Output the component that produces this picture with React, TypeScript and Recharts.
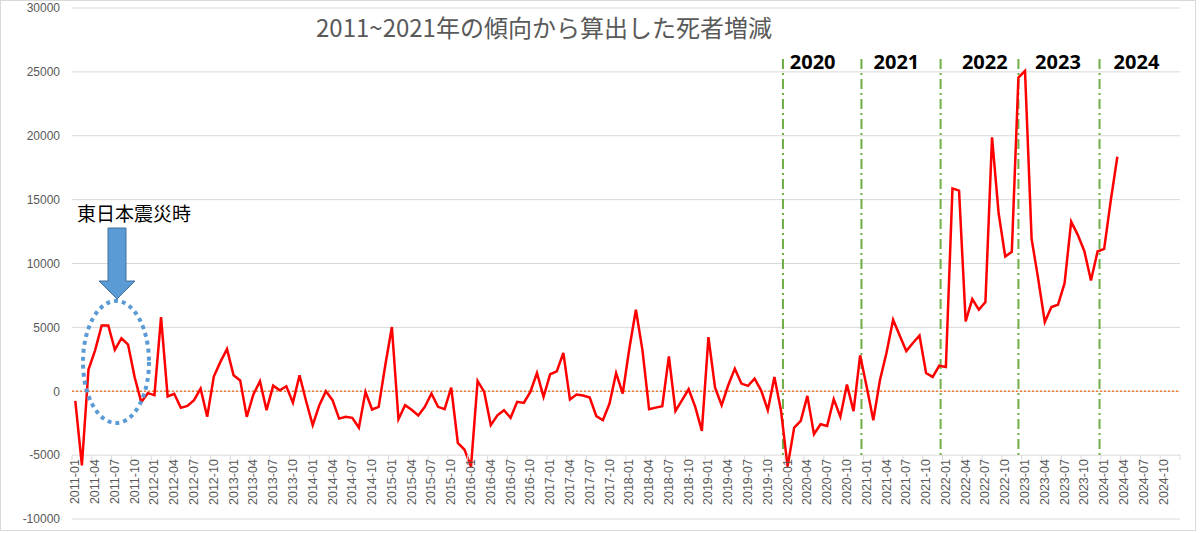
import React from 'react';
import { LineChart, Line, XAxis, YAxis, CartesianGrid, ReferenceLine, ReferenceDot } from 'recharts';

const years = [2011, 2012, 2013, 2014, 2015, 2016, 2017, 2018, 2019, 2020, 2021, 2022, 2023, 2024];
const monthsOfYear = ['01', '02', '03', '04', '05', '06', '07', '08', '09', '10', '11', '12'];
const monthLabels: string[] = years.flatMap((y) => monthsOfYear.map((m) => `${y}-${m}`));

// monthly excess/deficit of deaths vs 2011-2021 trend, 2011-01 .. 2024-03
const deathChange = [
  -750, -5800, 1700, 3200, 5150, 5150, 3250, 4150, 3650, 1100, -850, -150,
  -300, 5800, -400, -200, -1300, -1150, -700, 200, -2000, 1150, 2300, 3300,
  1250, 850, -2000, -250, 780, -1480, 440, 80, 390, -890, 1250, -780,
  -2650, -1090, 0, -700, -2140, -2000, -2080, -2860, -50, -1430, -1220, 2030,
  5030, -2190, -1090, -1450, -1900, -1220, -180, -1220, -1400, 290, -4040, -4560,
  -5900, 810, -50, -2650, -1880, -1480, -2080, -830, -910, -50, 1430, -440,
  1330, 1560, 3000, -650, -260, -330, -490, -1950, -2270, -960, 1430, -180,
  3330, 6380, 3200, -1400, -1280, -1170, 2730, -1540, -700, 160, -1220, -3100,
  4240, 290, -1090, 470, 1770, 600, 420, 990, 50, -1480, 1120, -1500,
  -5900, -2840, -2320, -360, -3360, -2580, -2710, -620, -2000, 520, -1560, 2810,
  340, -2270, 860, 3020, 5600, 4370, 3150, 3780, 4370, 1430, 1120, 2000,
  1900, 15880, 15700, 5470, 7210, 6380, 6980, 19870, 13930, 10550, 10910, 24560,
  25080, 11930, 8800, 5420, 6590, 6770, 8460, 13280, 12240, 10960, 8670, 10940,
  11150, 14920, 18360,
];

const yTicks = [-10000, -5000, 0, 5000, 10000, 15000, 20000, 25000, 30000];
const xTickIdx = monthLabels.map((_, i) => i).filter((i) => i % 3 === 0);

const yearNames = ['2020', '2021', '2022', '2023', '2024'];
const boundaryX = [107.3, 119.2, 131.2, 143.0, 155.3];
const yearLabelX = [111.8, 124.5, 137.9, 149.0, 160.9];
const yearLabelY = 25750;
const boundaryTop = 26000;
const boundaryBottom = -5200;

const title = '2011~2021年の傾向から算出した死者増減';
const quakeNote = '東日本震災時';

const data = deathChange.map((v, i) => ({ idx: i, label: monthLabels[i], value: v }));

const W = 1200;
const H = 533;
const M_TOP = 8;
const M_RIGHT = 20;
const Y_W = 72;
const X_H = 14;
const PLOT_TOP = M_TOP;
const PLOT_BOTTOM = H - X_H;
const PLOT_LEFT = Y_W;
const PLOT_RIGHT = W - M_RIGHT;
const AXIS_SHIFT = ((PLOT_BOTTOM - PLOT_TOP) * 5000) / 40000;
const BAND = (PLOT_RIGHT - PLOT_LEFT) / monthLabels.length;

function MonthTick(props: any) {
  const { x, y, payload } = props;
  const axisY = y - AXIS_SHIFT;
  const label = monthLabels[payload.value];
  const ty = axisY + 4;
  return (
    <g>
      <line x1={x - BAND / 2} x2={x - BAND / 2} y1={axisY} y2={axisY + 5} stroke="#d9d9d9" />
      {payload.value === xTickIdx[xTickIdx.length - 1] && (
        <line x1={x + BAND * 2.5} x2={x + BAND * 2.5} y1={axisY} y2={axisY + 5} stroke="#d9d9d9" />
      )}
      <text
        x={x}
        y={ty}
        transform={`rotate(-90 ${x} ${ty})`}
        textAnchor="end"
        dominantBaseline="central"
        fontSize={12.5}
        fill="#595959"
        fontFamily="Liberation Sans, Arial, sans-serif"
      >
        {label}
      </text>
    </g>
  );
}

export default function App() {
  return (
    <div style={{ position: 'absolute', left: 0, top: 0, width: W, height: H, background: '#fff' }}>
      <LineChart
        width={W}
        height={H}
        data={data}
        margin={{ top: M_TOP, right: M_RIGHT, left: 0, bottom: 0 }}
        style={{ fontFamily: 'Liberation Sans, Arial, sans-serif' }}
      >
        <CartesianGrid vertical={false} stroke="#d9d9d9" />
        <XAxis
          dataKey="idx"
          type="number"
          domain={[-0.5, monthLabels.length - 0.5]}
          ticks={xTickIdx}
          interval={0}
          tick={<MonthTick />}
          tickSize={0}
          tickMargin={0}
          axisLine={false}
          tickLine={false}
          height={X_H}
        />
        <YAxis
          type="number"
          domain={[-10000, 30000]}
          ticks={yTicks}
          interval={0}
          width={Y_W}
          tickSize={0}
          tickMargin={12}
          axisLine={false}
          tickLine={false}
          tick={{ fontSize: 12, fill: '#595959' }}
        />
        <ReferenceLine y={0} stroke="#ED7D31" strokeWidth={1.5} strokeDasharray="2 2" />
        {boundaryX.map((bx, i) => (
          <ReferenceLine
            key={'b' + i}
            segment={[
              { x: bx, y: boundaryTop },
              { x: bx, y: boundaryBottom },
            ]}
            stroke="#70AD47"
            strokeWidth={2}
            strokeDasharray="10 4 2 4"
          />
        ))}
        {yearNames.map((yn, i) => (
          <ReferenceDot
            key={'y' + i}
            x={yearLabelX[i]}
            y={yearLabelY}
            r={0}
            fill="none"
            stroke="none"
            label={{
              value: yn,
              position: 'center',
              fontSize: 20,
              fontWeight: 700,
              fill: '#000',
              fontFamily: 'Open Sans, sans-serif',
            }}
          />
        ))}
        <Line
          type="linear"
          dataKey="value"
          stroke="#ff0000"
          strokeWidth={2.5}
          dot={false}
          activeDot={false}
          isAnimationActive={false}
        />
      </LineChart>
      <svg
        width={W}
        height={H}
        style={{ position: 'absolute', left: 0, top: 0, pointerEvents: 'none' }}
      >
        <text
          x={544}
          y={37}
          textAnchor="middle"
          fontSize={24}
          fill="#595959"
          fontFamily="Noto Sans CJK JP, sans-serif"
        >
          {title}
        </text>
        <text x={77} y={221} fontSize={19} fill="#000" fontFamily="Noto Sans CJK JP, sans-serif">
          {quakeNote}
        </text>
        <path
          d="M108 228 L126 228 L126 281 L135 281 L117 299 L99 281 L108 281 Z"
          fill="#5B9BD5"
          stroke="#41719C"
          strokeWidth={1}
        />
        <ellipse
          cx={116}
          cy={362}
          rx={33}
          ry={61}
          fill="none"
          stroke="#5B9BD5"
          strokeWidth={4}
          strokeDasharray="4 4"
        />
      </svg>
      <div
        style={{
          position: 'absolute',
          left: 0,
          top: 0,
          width: 1196,
          height: 531,
          border: '1px solid #d9d9d9',
          boxSizing: 'border-box',
          pointerEvents: 'none',
        }}
      />
    </div>
  );
}
